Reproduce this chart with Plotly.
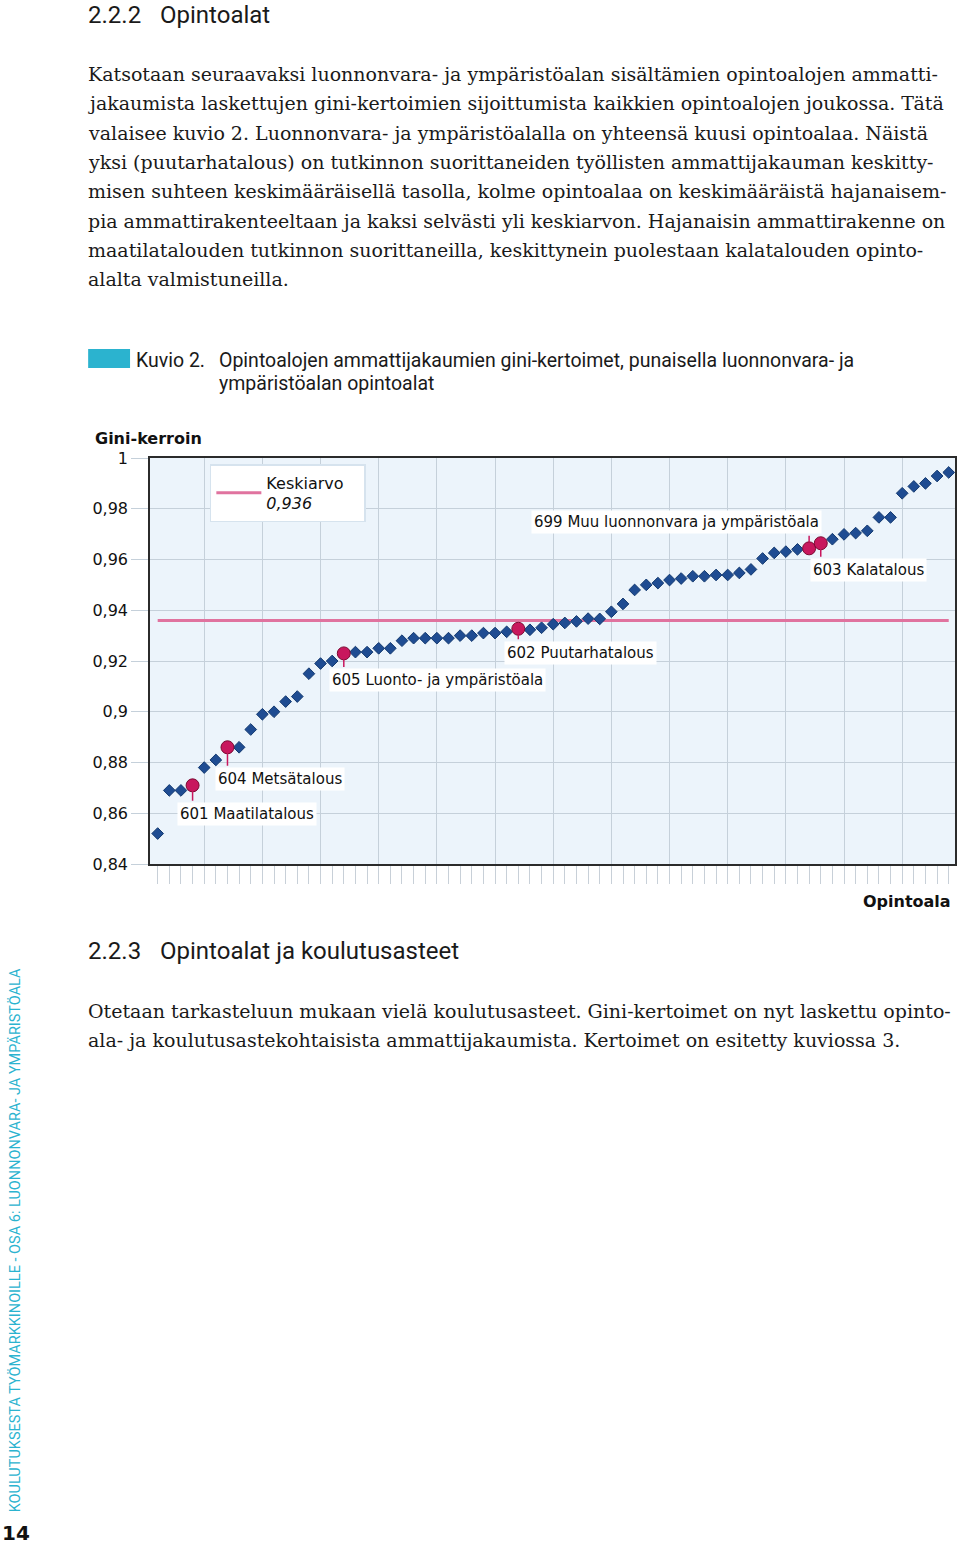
import plotly.graph_objects as go

# Gini coefficients of the occupational distributions, one per study field, ascending
gini = [0.852, 0.869, 0.869, 0.871, 0.878, 0.881, 0.886, 0.886, 0.893, 0.899,
        0.900, 0.904, 0.906, 0.915, 0.919, 0.920, 0.923, 0.9235, 0.9235, 0.925,
        0.925, 0.928, 0.929, 0.929, 0.929, 0.929, 0.930, 0.930, 0.931, 0.931,
        0.9315, 0.9327, 0.9323, 0.9331, 0.9345, 0.935, 0.9356, 0.9367, 0.9366, 0.9394,
        0.9425, 0.948, 0.950, 0.9507, 0.9519, 0.9525, 0.9534, 0.9534, 0.9539, 0.9539,
        0.9547, 0.9561, 0.9604, 0.9626, 0.9631, 0.964, 0.9644, 0.9664, 0.968, 0.9699,
        0.9704, 0.9713, 0.9766, 0.9766, 0.9861, 0.9888, 0.990, 0.9929, 0.9943]
mean_gini = 0.936

# natural resources and environment fields (rank position in the sorted list)
highlight_rank = [4, 7, 17, 32, 57, 58]
highlight_names = ['601 Maatilatalous', '604 Metsätalous', '605 Luonto- ja ympäristöala',
                   '602 Puutarhatalous', '699 Muu luonnonvara ja ympäristöala', '603 Kalatalous']

y_ticks = [0.84, 0.86, 0.88, 0.90, 0.92, 0.94, 0.96, 0.98, 1.00]
y_tick_labels = ['0,84', '0,86', '0,88', '0,9', '0,92', '0,94', '0,96', '0,98', '1']

intro_lines = [
    'Katsotaan seuraavaksi luonnonvara- ja ympäristöalan sisältämien opintoalojen ammatti-',
    'jakaumista laskettujen gini-kertoimien sijoittumista kaikkien opintoalojen joukossa. Tätä',
    'valaisee kuvio 2. Luonnonvara- ja ympäristöalalla on yhteensä kuusi opintoalaa. Näistä',
    'yksi (puutarhatalous) on tutkinnon suorittaneiden työllisten ammattijakauman keskitty-',
    'misen suhteen keskimääräisellä tasolla, kolme opintoalaa on keskimääräistä hajanaisem-',
    'pia ammattirakenteeltaan ja kaksi selvästi yli keskiarvon. Hajanaisin ammattirakenne on',
    'maatilatalouden tutkinnon suorittaneilla, keskittynein puolestaan kalatalouden opinto-',
    'alalta valmistuneilla.',
]
outro_lines = [
    'Otetaan tarkasteluun mukaan vielä koulutusasteet. Gini-kertoimet on nyt laskettu opinto-',
    'ala- ja koulutusastekohtaisista ammattijakaumista. Kertoimet on esitetty kuviossa 3.',
]

# page geometry
W, H = 960, 1546
L, R, T, B = 150, 3, 458, 682
PW, PH = W - L - R, H - T - B

SERIF = 'DejaVu Serif, Liberation Serif, serif'
NARROW = 'Roboto, sans-serif'
CHART = 'DejaVu Sans, Verdana, sans-serif'
BLUE = '#1f4c92'
RED = '#c8175d'
PINK = '#e0739f'
CYAN = '#2bb3cf'


def px(x):
    return (x - L) / PW


def py(y):
    return (H - B - y) / PH


ranks = list(range(1, len(gini) + 1))
plain_x = [r for r in ranks if r not in highlight_rank]
plain_y = [gini[r - 1] for r in plain_x]
hi_y = [gini[r - 1] for r in highlight_rank]

fig = go.Figure()

fig.add_trace(go.Scatter(
    x=[ranks[0], ranks[-1]], y=[mean_gini, mean_gini], mode='lines',
    line=dict(color=PINK, width=3),
    name='Keskiarvo&nbsp;&nbsp;&nbsp;<br><i>' + f'{mean_gini:.3f}'.replace('.', ',') + '</i>',
    showlegend=True, hoverinfo='skip',
))
fig.add_trace(go.Scatter(
    x=plain_x, y=plain_y, mode='markers', showlegend=False,
    marker=dict(symbol='diamond', size=9, color=BLUE, line=dict(color='#143a70', width=1)),
))
fig.add_trace(go.Scatter(
    x=highlight_rank, y=hi_y, mode='markers', showlegend=False,
    marker=dict(symbol='circle', size=13, color=RED, line=dict(color='#7a0a32', width=1)),
))

# label placement: xshift, yshift, xanchor, yanchor, stem length (px, + is down)
label_pos = {
    4: (-16, -17, 'left', 'top', 17),
    7: (-12, -20, 'left', 'top', 20),
    17: (-15, -15, 'left', 'top', 15),
    32: (-14, -12, 'left', 'top', 12),
    57: (13, 14, 'right', 'bottom', -14),
    58: (-11, -15, 'left', 'top', 15),
}

annotations = []
for rank, name in zip(highlight_rank, highlight_names):
    xs, ys, xa, ya, stem = label_pos[rank]
    annotations.append(dict(
        x=rank, y=gini[rank - 1], xref='x', yref='y', text='',
        showarrow=True, arrowhead=0, arrowwidth=1.5, arrowcolor=RED,
        ax=0, ay=stem, standoff=6,
    ))
    annotations.append(dict(
        x=rank, y=gini[rank - 1], xref='x', yref='y', text=name, showarrow=False,
        xanchor=xa, yanchor=ya, xshift=xs, yshift=ys,
        bgcolor='white', borderpad=2, font=dict(family=CHART, size=15, color='#111'),
    ))

# axis titles
annotations.append(dict(x=px(95), y=py(438), xref='paper', yref='paper', text='<b>Gini-kerroin</b>',
                        showarrow=False, xanchor='left', yanchor='middle', xshift=-2,
                        font=dict(family=CHART, size=16, color='#111')))
annotations.append(dict(x=px(951), y=py(901), xref='paper', yref='paper', text='<b>Opintoala</b>',
                        showarrow=False, xanchor='right', yanchor='middle', xshift=4,
                        font=dict(family=CHART, size=16, color='#111')))


# page text
def page_text(x, y, text, family, size, color='#1a1a1a', xanchor='left'):
    annotations.append(dict(x=px(x), y=py(y), xref='paper', yref='paper', text=text,
                            showarrow=False, xanchor=xanchor, yanchor='middle', xshift=-2,
                            font=dict(family=family, size=size, color=color)))


page_text(88, 15, '2.2.2', NARROW, 24)
page_text(160, 15, 'Opintoalat', NARROW, 24)
for i, line in enumerate(intro_lines):
    page_text(88, 74 + i * 29.3, line, SERIF, 19)

page_text(136, 360, 'Kuvio 2.', NARROW, 19.5)
page_text(219, 360, 'Opintoalojen ammattijakaumien gini-kertoimet, punaisella luonnonvara- ja', NARROW, 19.5)
page_text(219, 383, 'ympäristöalan opintoalat', NARROW, 19.5)

page_text(88, 951, '2.2.3', NARROW, 24)
page_text(160, 951, 'Opintoalat ja koulutusasteet', NARROW, 24)
for i, line in enumerate(outro_lines):
    page_text(88, 1011 + i * 29.3, line, SERIF, 19)

annotations.append(dict(x=px(15), y=py(1240), xref='paper', yref='paper',
                        text='KOULUTUKSESTA TYÖMARKKINOILLE - OSA 6: LUONNONVARA- JA YMPÄRISTÖALA',
                        showarrow=False, textangle=-90, xanchor='center', yanchor='middle',
                        font=dict(family=NARROW, size=14.5, color=CYAN)))
page_text(2, 1533, '<b>14</b>', CHART, 20, color='#111')

shapes = [dict(type='rect', xref='paper', yref='paper', x0=px(88), x1=px(130), y0=py(349), y1=py(368),
               fillcolor=CYAN, line=dict(width=0))]

fig.update_layout(
    width=W, height=H,
    margin=dict(l=L, r=R, t=T, b=B),
    paper_bgcolor='white',
    plot_bgcolor='#ecf4fb',
    separators=', ',
    font=dict(family=CHART, size=16, color='#111'),
    annotations=annotations,
    shapes=shapes,
    legend=dict(x=px(210), y=py(464), xanchor='left', yanchor='top',
                bgcolor='white', bordercolor='#d6e3ee', borderwidth=1.5,
                font=dict(family=CHART, size=16, color='#111'), itemwidth=45),
    xaxis=dict(range=[0.34, 69.54], showline=True, linecolor='#2b2b2b', linewidth=1.5, mirror=True,
               tick0=0, dtick=5, ticks='outside', ticklen=18, tickcolor='#c8d0d8',
               showticklabels=False, showgrid=True, gridcolor='#c5d0da', gridwidth=1, zeroline=False,
               minor=dict(tick0=0, dtick=1, ticks='outside', ticklen=18, tickcolor='#c8d0d8', showgrid=False)),
    yaxis=dict(range=[0.84, 1.0], showline=True, linecolor='#2b2b2b', linewidth=1.5, mirror=True,
               tickvals=y_ticks, ticktext=y_tick_labels, ticks='outside', ticklen=17, tickcolor='#c5d0da',
               showgrid=True, gridcolor='#c5d0da', gridwidth=1, zeroline=False,
               tickfont=dict(family=CHART, size=16, color='#111')),
)

# drop the default 8px page margin so the figure sits at the window origin
fig.write_html('out.html', config={'displayModeBar': False},
               post_script="document.body.style.margin='0';document.body.style.overflow='hidden';")
